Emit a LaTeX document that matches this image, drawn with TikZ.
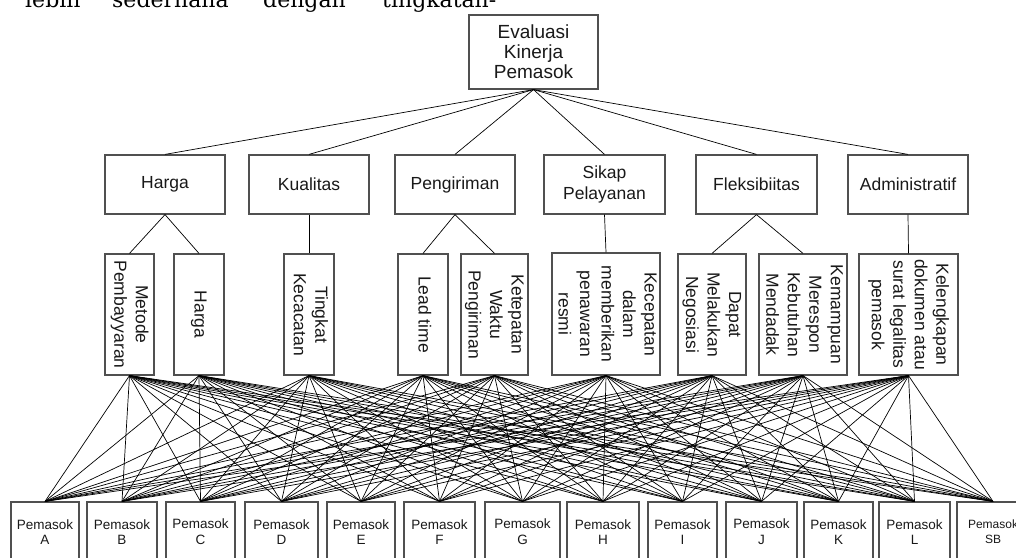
\documentclass[tikz,border=0pt]{standalone}
\usepackage{fontspec}
\setmainfont{Liberation Sans}
\newfontfamily\dvserif{DejaVu Serif}
\definecolor{boxgray}{RGB}{80,80,80}
\definecolor{txt}{RGB}{25,25,25}
\newcommand{\vlines}[1]{\rotatebox{-90}{\begin{tabular}{@{}c@{}}#1\end{tabular}}}
\begin{document}
\begin{tikzpicture}[x=1pt,y=-1pt,
  box/.style={draw=boxgray, line width=1.2pt, fill=white, inner sep=0pt, align=center, text=txt,
    font=\fontsize{17.5}{21.5}\selectfont},
  topbox/.style={box, font=\fontsize{19}{20}\selectfont},
  sup/.style={box, font=\fontsize{13.5}{15.7}\selectfont},
  para/.style={anchor=base west, inner sep=0pt, font=\dvserif\fontsize{22}{26}\selectfont},
  link/.style={draw=black, line width=0.7pt}]
\clip (0,0) rectangle (1016,557);
% paragraph fragment
\node[para] (w1) at (25,7) {lebih};
\node[para] (w2) at (112,7) {sederhana};
\node[para] (w3) at (263,7) {dengan};
\node[para] (w4) at (382,7) {tingkatan-};
% top
\node[topbox, minimum width=129, minimum height=74] (top) at (533.5,52) {Evaluasi\\Kinerja\\Pemasok};
% level 2
\node[box, minimum width=120, minimum height=59] (h) at (165,184.5) {Harga};
\node[box, minimum width=120, minimum height=59] (k) at (309,184.5) {Kualitas};
\node[box, minimum width=120, minimum height=59] (p) at (455,184.5) {Pengiriman};
\node[box, minimum width=121, minimum height=59] (s) at (604.5,184.5) {Sikap\\Pelayanan};
\node[box, minimum width=121, minimum height=59] (f) at (756.5,184.5) {Fleksibiitas};
\node[box, minimum width=120, minimum height=59] (a) at (908,184.5) {Administratif};
% level 3
\node[box, minimum width=49, minimum height=121] (c1) at (129.5,314.5) {\vlines{Metode\\Pembayyaran}};
\node[box, minimum width=50, minimum height=121] (c2) at (199,314.5) {\vlines{Harga}};
\node[box, minimum width=50, minimum height=121] (c3) at (309,314.5) {\vlines{Tingkat\\Kecacatan}};
\node[box, minimum width=50, minimum height=121] (c4) at (423,314.5) {\vlines{Lead time}};
\node[box, minimum width=67, minimum height=121] (c5) at (494.5,314.5) {\vlines{Ketepatan\\Waktu\\Pengiriman}};
\node[box, minimum width=108, minimum height=122] (c6) at (606,314) {\vlines{Kecepatan\\dalam\\memberikan\\penawaran\\resmi}};
\node[box, minimum width=68, minimum height=121] (c7) at (712,314.5) {\vlines{Dapat\\Melakukan\\Negosiasi}};
\node[box, minimum width=88, minimum height=121] (c8) at (803,314.5) {\vlines{Kemampuan\\Merespon\\Kebutuhan\\Mendadak}};
\node[box, minimum width=99, minimum height=121] (c9) at (908.5,314.5) {\vlines{Kelengkapan\\dokumen atau\\surat legalitas\\pemasok}};
% suppliers
\foreach \n/\cx/\w in {A/45/68, B/122/70, C/200.5/69, D/281.5/73, E/361/68, F/439.5/71,
  G/522.5/75, H/603/72, I/682.5/69, J/761.5/71, K/838.5/69, L/914.5/71}
  \node[sup, minimum width=\w, minimum height=60] (s\n) at (\cx,532) {Pemasok\\\n};
\node[sup, minimum width=72, minimum height=60, font=\fontsize{12}{15}\selectfont] (sSB) at (993,532) {Pemasok\\SB};
% connectors
\foreach \n in {h,k,p,s,f,a} \draw[link] (top.south) -- (\n.north);
\draw[link] (h.south) -- (c1.north);
\draw[link] (h.south) -- (c2.north);
\draw[link] (k.south) -- (c3.north);
\draw[link] (p.south) -- (c4.north);
\draw[link] (p.south) -- (c5.north);
\draw[link] (s.south) -- (c6.north);
\draw[link] (f.south) -- (c7.north);
\draw[link] (f.south) -- (c8.north);
\draw[link] (a.south) -- (c9.north);
\foreach \c in {c1,c2,c3,c4,c5,c6,c7,c8,c9}
  \foreach \t in {sA,sB,sC,sD,sE,sF,sG,sH,sI,sJ,sK,sL,sSB}
    \draw[link] (\c.south) -- (\t.north);
\end{tikzpicture}
\end{document}
